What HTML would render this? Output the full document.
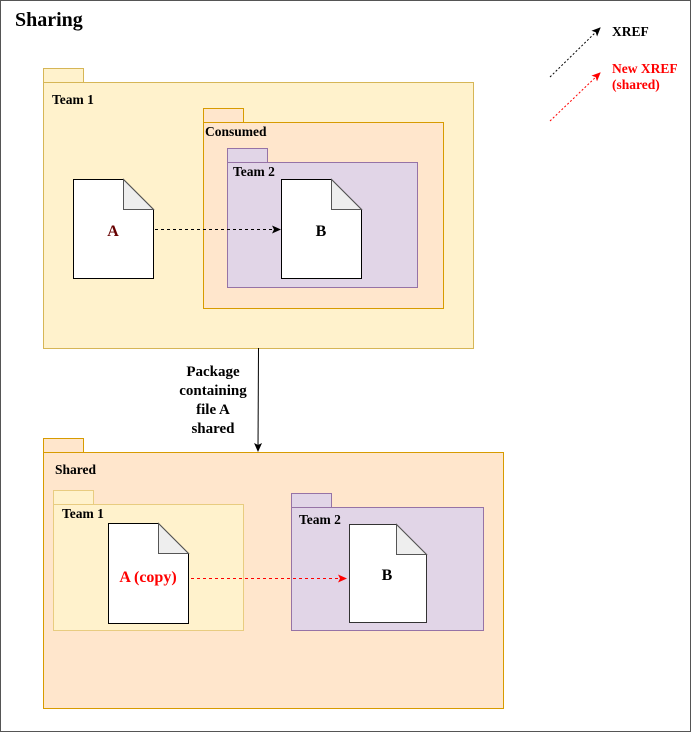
<!DOCTYPE html>
<html><head><meta charset="utf-8"><style>
html,body{margin:0;padding:0;background:#fff;}
svg{display:block;font-family:"Liberation Serif",serif;font-weight:bold;}
</style></head><body>
<svg width="692" height="733" viewBox="0 0 692 733" xmlns="http://www.w3.org/2000/svg">
<defs>
<marker id="ab" markerWidth="10" markerHeight="10" refX="8" refY="5" orient="auto" markerUnits="userSpaceOnUse"><path d="M0,1 L9,5 L0,9 L2,5 Z" fill="#000"/></marker>
<marker id="ar" markerWidth="10" markerHeight="10" refX="8" refY="5" orient="auto" markerUnits="userSpaceOnUse"><path d="M0,1 L9,5 L0,9 L2,5 Z" fill="#ff0000"/></marker>
</defs>
<rect x="0.5" y="0.5" width="690" height="731" fill="#fff" stroke="#555"/>
<text x="15" y="26" font-size="20">Sharing</text>

<rect x="43.5" y="68.5" width="40" height="14" fill="#fff2cc" stroke="#d6b656"/>
<rect x="43.5" y="82.5" width="430" height="266" fill="#fff2cc" stroke="#d6b656"/>
<text x="52" y="104" font-size="13.5">Team 1</text>
<rect x="203.5" y="108.5" width="40" height="14" fill="#ffe6cc" stroke="#d79b00"/>
<rect x="203.5" y="122.5" width="240" height="186" fill="#ffe6cc" stroke="#d79b00"/>
<text x="205" y="136" font-size="13.5">Consumed</text>
<rect x="227.5" y="148.5" width="40" height="14" fill="#e1d5e7" stroke="#9673a6"/>
<rect x="227.5" y="162.5" width="190" height="125" fill="#e1d5e7" stroke="#9673a6"/>
<text x="233" y="176" font-size="13.5">Team 2</text>
<path d="M73.5,179.5 H123.5 L153.5,209.5 V278.5 H73.5 Z" fill="#fff" stroke="#000"/>
<path d="M123.5,179.5 V209.5 H153.5 Z" fill="#eee" stroke="#555"/>
<text x="113" y="236" font-size="16" fill="#660000" text-anchor="middle">A</text>
<path d="M281.5,179.5 H331.5 L361.5,209.5 V278.5 H281.5 Z" fill="#fff" stroke="#000"/>
<path d="M331.5,179.5 V209.5 H361.5 Z" fill="#eee" stroke="#555"/>
<text x="321" y="236" font-size="16" text-anchor="middle">B</text>
<line x1="155" y1="229.5" x2="280" y2="229.5" stroke="#000" stroke-dasharray="3,3" marker-end="url(#ab)"/>

<line x1="258.5" y1="348" x2="258" y2="451" stroke="#000" marker-end="url(#ab)"/>
<g font-size="15" text-anchor="middle">
<text x="213" y="376">Package</text>
<text x="213" y="395">containing</text>
<text x="213" y="414">file A</text>
<text x="213" y="433">shared</text>
</g>

<rect x="43.5" y="438.5" width="40" height="14" fill="#ffe6cc" stroke="#d79b00"/>
<rect x="43.5" y="452.5" width="460" height="256" fill="#ffe6cc" stroke="#d79b00"/>
<text x="55" y="474" font-size="13.5">Shared</text>
<rect x="53.5" y="490.5" width="40" height="14" fill="#fff2cc" stroke="#e8cc80"/>
<rect x="53.5" y="504.5" width="190" height="126" fill="#fff2cc" stroke="#e8cc80"/>
<text x="62" y="518" font-size="13.5">Team 1</text>
<path d="M108.5,523.5 H158.5 L188.5,553.5 V623.5 H108.5 Z" fill="#fff" stroke="#000"/>
<path d="M158.5,523.5 V553.5 H188.5 Z" fill="#eee" stroke="#555"/>
<text x="148" y="582" font-size="16" fill="#ff0000" text-anchor="middle">A (copy)</text>
<rect x="291.5" y="493.5" width="40" height="14" fill="#e1d5e7" stroke="#9673a6"/>
<rect x="291.5" y="507.5" width="192" height="123" fill="#e1d5e7" stroke="#9673a6"/>
<text x="299" y="524" font-size="13.5">Team 2</text>
<path d="M349.5,524.5 H396.5 L426.5,554.5 V622.5 H349.5 Z" fill="#fff" stroke="#333"/>
<path d="M396.5,524.5 V554.5 H426.5 Z" fill="#eee" stroke="#555"/>
<text x="387" y="580" font-size="16" text-anchor="middle">B</text>
<line x1="191" y1="578.5" x2="346" y2="578.5" stroke="#ff0000" stroke-dasharray="3,3" marker-end="url(#ar)"/>

<line x1="550" y1="77" x2="600" y2="28" stroke="#000" stroke-dasharray="2,2" marker-end="url(#ab)"/>
<text x="612" y="36" font-size="13.5">XREF</text>
<line x1="550" y1="121" x2="600" y2="73" stroke="#ff0000" stroke-dasharray="2,2" marker-end="url(#ar)"/>
<text x="612" y="73" font-size="13.5" fill="#ff0000">New XREF</text>
<text x="612" y="89" font-size="13.5" fill="#ff0000">(shared)</text>
</svg>
</body></html>
